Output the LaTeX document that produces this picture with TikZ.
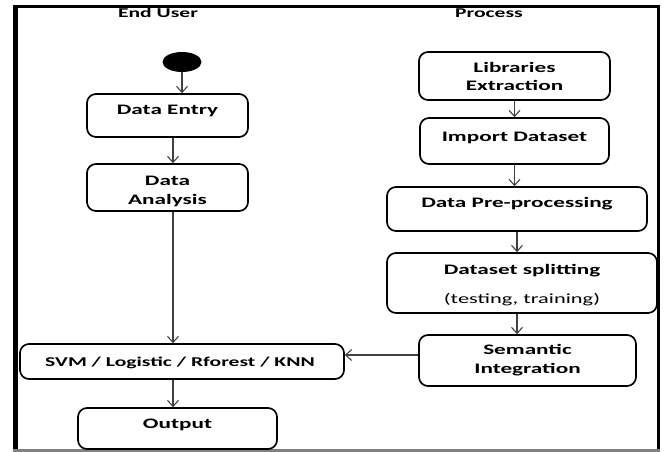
\documentclass[tikz,border=0pt]{standalone}
\usepackage{fontspec}
\setmainfont[FakeStretch=1.6]{Carlito}
\usetikzlibrary{arrows.meta,shapes.geometric}
\begin{document}
\begin{tikzpicture}[x=1pt,y=-1pt,
  box/.style={draw=black, line width=1.7pt, rounded corners=9pt, inner sep=0pt},
  lbl/.style={font=\fontsize{14.5}{16}\selectfont\bfseries, inner sep=0pt, anchor=base},
  sub/.style={font=\fontsize{14}{16}\selectfont, inner sep=0pt, anchor=base},
  head/.style={font=\fontsize{13.5}{15}\selectfont\bfseries, inner sep=0pt, anchor=base},
  arr/.style={draw=black!75, line width=1.1pt, -{Straight Barb[length=6pt,width=11pt]}},
  framel/.style={draw=black}]
\useasboundingbox (0,0) rectangle (664,452);
% frame
\draw[framel, line width=5pt] (15.5,5) -- (15.5,452);
\draw[framel, line width=2.7pt] (13,6.3) -- (660,6.3);
\draw[framel, line width=3pt] (658.5,5) -- (658.5,449);
\draw[draw=black!50, line width=3pt] (13,450.5) -- (660,450.5);
% headers
\node[head] (hUser) at (158,18) {End User};
\node[head] (hProc) at (489,18) {Process};
% start
\node[ellipse, fill=black, minimum width=39pt, minimum height=20pt, inner sep=0pt] (start) at (182,62) {};
% left column boxes
\node[box, minimum width=161pt, minimum height=43pt] (entry) at (167.5,115.5) {};
\node[lbl] (entryT) at (167.5,114) {Data Entry};
\node[box, minimum width=161pt, minimum height=47pt] (analysis) at (167.5,187.5) {};
\node[lbl] (analysisA) at (167.5,185) {Data};
\node[lbl] (analysisB) at (167.5,204) {Analysis};
\node[box, minimum width=324pt, minimum height=35pt] (svm) at (182,361.5) {};
\node[lbl, font=\fontsize{13.5}{16}\selectfont\bfseries] (svmT) at (180,366) {SVM / Logistic / Rforest / KNN};
\node[box, minimum width=199pt, minimum height=41pt] (output) at (177.5,428.5) {};
\node[lbl] (outputT) at (177.5,428) {Output};
% right column boxes
\node[box, minimum width=191pt, minimum height=48pt] (lib) at (514.5,76) {};
\node[lbl] (libA) at (514.5,73) {Libraries};
\node[lbl] (libB) at (514.5,91) {Extraction};
\node[box, minimum width=189pt, minimum height=46pt] (import) at (514.5,141) {};
\node[lbl] (importT) at (514.5,141) {Import Dataset};
\node[box, minimum width=260pt, minimum height=44pt] (prep) at (517,209) {};
\node[lbl] (prepT) at (517,207) {Data Pre-processing};
\node[box, minimum width=270pt, minimum height=60pt] (split) at (522,283) {};
\node[lbl] (splitA) at (522,274) {Dataset splitting};
\node[sub] (splitB) at (522,303) {(testing, training)};
\node[box, minimum width=217pt, minimum height=51pt] (sem) at (527.5,360.5) {};
\node[lbl] (semA) at (527.5,354) {Semantic};
\node[lbl] (semB) at (527.5,373) {Integration};
% connectors
\draw[arr] (start.south) -- (start.south |- entry.north);
\draw[arr] ([xshift=5.5pt]entry.south) -- ([xshift=5.5pt]analysis.north);
\draw[arr] ([xshift=5.5pt]analysis.south) -- ([xshift=5.5pt]analysis.south |- svm.north);
\draw[arr] ([xshift=5.5pt]analysis.south |- svm.south) -- ([xshift=5.5pt]analysis.south |- output.north);
\draw[arr] (lib.south) -- (import.north);
\draw[arr] (import.south) -- (import.south |- prep.north);
\draw[arr] (prep.south) -- (prep.south |- split.north);
\draw[arr] (prep.south |- split.south) -- (prep.south |- sem.north);
\draw[arr] ([yshift=5.5pt]sem.west) -- ([yshift=5.5pt]sem.west -| svm.east);
\end{tikzpicture}
\end{document}
